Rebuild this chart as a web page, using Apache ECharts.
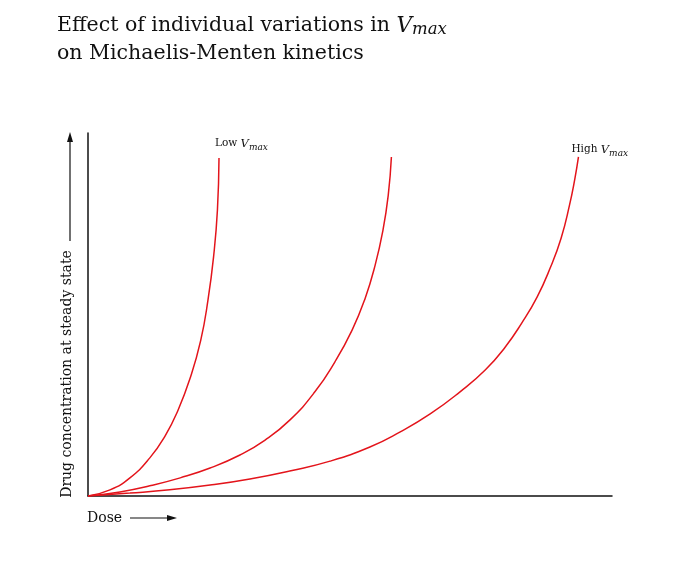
<!DOCTYPE html>
<html>
<head>
<meta charset="utf-8">
<script src="https://cdn.jsdelivr.net/npm/echarts@6/dist/echarts.min.js"></script>
<style>
  html, body { margin: 0; padding: 0; background: #fff; }
  #main { width: 698px; height: 568px; }
</style>
</head>
<body>
<div id="main"></div>
<script>
var chartDom = document.getElementById('main');
var myChart = echarts.init(chartDom);
var option;

// dose (x) and steady-state concentration (y), 0..100 scale
var lowVmax = [
    [0, 0], [4.2, 1.7], [8.0, 5.0], [11.8, 10.5], [14.7, 16.5], [17.2, 23.7],
    [19.5, 32.5], [21.5, 42.8], [22.9, 54.0], [24.0, 66.4], [24.7, 78.8], [25.0, 93.1]
];
var midVmax = [
    [0, 0], [6.1, 1.1], [11.8, 2.8], [17.6, 5.0], [23.3, 7.7], [29.0, 11.3],
    [33.8, 15.4], [38.5, 20.9], [43.3, 28.7], [47.1, 36.9], [50.4, 45.7],
    [52.9, 54.5], [54.8, 63.6], [56.3, 73.3], [57.3, 82.9], [57.9, 93.4]
];
var highVmax = [
    [0, 0], [8.0, 0.8], [15.6, 1.7], [23.3, 3.0], [30.9, 4.7], [38.5, 6.9],
    [46.2, 9.6], [53.8, 13.5], [59.5, 17.6], [65.3, 22.6], [71.0, 28.7],
    [75.8, 34.7], [79.6, 41.0], [82.8, 47.7], [85.7, 54.8], [88.2, 62.8],
    [90.3, 71.1], [91.9, 80.2], [92.9, 87.3], [93.6, 93.4]
];

var serif = '"DejaVu Serif", "Liberation Serif", serif';
var red = '#e3141b';

var vmaxRich = {
    n: { fontFamily: serif, fontSize: 10.5, color: '#111', verticalAlign: 'top', lineHeight: 14 },
    v: { fontFamily: serif, fontSize: 11.5, fontStyle: 'italic', color: '#111', verticalAlign: 'top', lineHeight: 14 },
    s: { fontFamily: serif, fontSize: 9, fontStyle: 'italic', color: '#111', verticalAlign: 'top', lineHeight: 14, padding: [5, 0, 0, 0] }
};

function curve(name, data, label, offset) {
    return {
        name: name,
        type: 'line',
        smooth: 0.5,
        symbol: 'none',
        data: data,
        lineStyle: { color: red, width: 1.5 },
        silent: true,
        endLabel: {
            show: !!label,
            formatter: label || '',
            distance: 0,
            offset: offset || [0, 0],
            rich: vmaxRich
        }
    };
}

option = {
    animation: false,
    backgroundColor: '#fff',
    title: {
        left: 52,
        top: 7,
        text: 'Effect of individual variations in {v|V}{s|max}\non Michaelis-Menten kinetics',
        textStyle: {
            fontFamily: serif,
            fontSize: 20.5,
            fontWeight: 'normal',
            color: '#111',
            lineHeight: 28,
            rich: {
                v: { fontFamily: serif, fontSize: 21.5, fontStyle: 'italic', color: '#111', lineHeight: 28 },
                s: { fontFamily: serif, fontSize: 16.5, fontStyle: 'italic', color: '#111', lineHeight: 28, padding: [8, 0, 0, 0] }
            }
        }
    },
    grid: { left: 88, right: 86, top: 133, bottom: 72 },
    xAxis: {
        type: 'value',
        min: 0,
        max: 100,
        axisLine: { show: true, lineStyle: { color: '#111', width: 1.5 } },
        axisTick: { show: false },
        axisLabel: { show: false },
        splitLine: { show: false }
    },
    yAxis: {
        type: 'value',
        min: 0,
        max: 100,
        axisLine: { show: true, lineStyle: { color: '#111', width: 1.5 } },
        axisTick: { show: false },
        axisLabel: { show: false },
        splitLine: { show: false }
    },
    graphic: [
        {
            type: 'text',
            x: 67, y: 374,
            rotation: Math.PI / 2,
            style: {
                text: 'Drug concentration at steady state',
                fontFamily: serif, fontSize: 14, fill: '#111',
                align: 'center', verticalAlign: 'middle'
            }
        },
        { type: 'line', shape: { x1: 70, y1: 241, x2: 70, y2: 140 }, style: { stroke: '#111', lineWidth: 1.2 } },
        { type: 'polygon', shape: { points: [[70, 132], [67, 142], [73, 142]] }, style: { fill: '#111' } },
        {
            type: 'text',
            x: 87, y: 518,
            style: {
                text: 'Dose',
                fontFamily: serif, fontSize: 14, fill: '#111',
                align: 'left', verticalAlign: 'middle'
            }
        },
        { type: 'line', shape: { x1: 130, y1: 518, x2: 168, y2: 518 }, style: { stroke: '#111', lineWidth: 1.2 } },
        { type: 'polygon', shape: { points: [[177, 518], [167, 515], [167, 521]] }, style: { fill: '#111' } }
    ],
    series: [
        curve('Low Vmax', lowVmax, '{n|Low }{v|V}{s|max}', [-4, -13]),
        curve('Mid Vmax', midVmax),
        curve('High Vmax', highVmax, '{n|High }{v|V}{s|max}', [-7, -6])
    ]
};

option && myChart.setOption(option);
</script>
</body>
</html>
